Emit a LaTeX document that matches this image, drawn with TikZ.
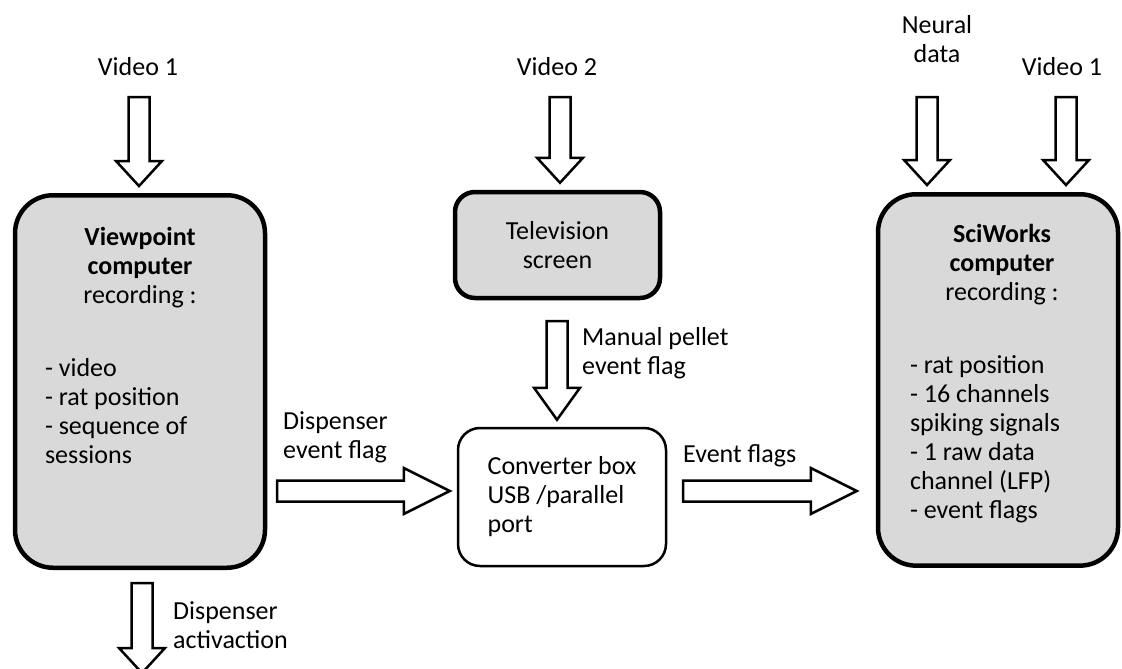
\documentclass[tikz,border=0pt]{standalone}
\usepackage{fontspec}
\setmainfont{Carlito}
\usetikzlibrary{positioning,calc}
\definecolor{BoxGray}{RGB}{217,217,217}
\tikzset{every node/.style={font=\fontsize{26}{29}\selectfont}, graybox/.style={draw=black,fill=BoxGray,line width=4.5pt,rounded corners=38pt}, convbox/.style={draw=black,fill=white,line width=2.5pt,rounded corners=22pt,inner ysep=0pt}, lab/.style={inner sep=0pt,align=left}, fat/.style={draw=black,fill=white,line width=2.5pt,line join=miter}}
\newcommand{\fatarrow}[3][25pt]{%
  \coordinate (fa-neck) at ($(#3)!#1!(#2)$);
  \draw[fat] ($(#2)!10.5pt!90:(#3)$) -- ($(fa-neck)!10.5pt!90:(#3)$) -- ($(fa-neck)!23pt!90:(#3)$) -- (#3) -- ($(fa-neck)!23pt!-90:(#3)$) -- ($(fa-neck)!10.5pt!-90:(#3)$) -- ($(#2)!10.5pt!-90:(#3)$) -- cycle;}

\begin{document}
\begin{tikzpicture}[x=1pt,y=-1pt]
\useasboundingbox (0,0) rectangle (1122,669);
% boxes
\node[graybox,anchor=north,inner xsep=30pt,inner ysep=29.5pt] (vp) at (140,193) {\parbox[t][313.5pt][t]{190pt}{\centering\strut\textbf{Viewpoint}\\ \textbf{computer}\\ recording :\par\vspace{44pt}\raggedright - video\\ - rat position\\ - sequence of\\ sessions}};
\node[graybox,rounded corners=20pt,minimum width=205pt,minimum height=106pt,align=center] (tv) at (557.5,245) {Television\\ screen};
\node[convbox,minimum width=208pt,minimum height=138pt,align=left] (conv) at (562,497) {Converter box\\ USB /parallel\\ port};
\node[graybox,anchor=north,inner xsep=32pt,inner ysep=27.7pt] (sw) at (998,192) {\parbox[t][316pt][t]{176pt}{\centering\strut\hspace*{8pt}\textbf{SciWorks}\\ \hspace*{8pt}\textbf{computer}\\ \hspace*{8pt}recording :\par\vspace{44pt}\raggedright - rat position\\ - 16 channels\\ spiking signals\\ - 1 raw data\\ channel (LFP)\\ - event flags}};
% labels (base = last line)
\node[lab,anchor=base] (v1) at (138,75) {Video 1};
\node[lab,anchor=base] (v2) at (557,75) {Video 2};
\node[lab,align=center,anchor=base] (nd) at (937,63) {Neural\\ data};
\node[lab,anchor=base] (v1r) at (1062,75) {Video 1};
\node[lab,anchor=base west] (mp) at (582,374) {Manual pellet\\ event flag};
\node[lab,anchor=base west] (dfl) at (283,458) {Dispenser\\ event flag};
\node[lab,anchor=base west] (efl) at (683,462) {Event flags};
\node[lab,anchor=base west] (dact) at (173,648) {Dispenser\\ activaction};
% arrow ends
\coordinate (v1-in) at (139,97);
\coordinate (v1-tip) at ($(v1-in |- vp.north)+(0,-7)$);
\coordinate (v2-in) at (560,97);
\coordinate (v2-tip) at ($(v2-in |- tv.north)+(0,-7)$);
\coordinate (nd-in) at (927,97);
\coordinate (nd-tip) at ($(nd-in |- sw.north)+(0,-7)$);
\coordinate (v1r-in) at (1066,97);
\coordinate (v1r-tip) at ($(v1r-in |- sw.north)+(0,-7)$);
\coordinate (mp-in) at (557,321);
\coordinate (mp-tip) at ($(mp-in |- conv.north)+(0,-7)$);
\coordinate (dfl-in) at (277,491);
\coordinate (dfl-tip) at ($(dfl-in -| conv.west)+(-7,0)$);
\coordinate (efl-in) at (683,491);
\coordinate (efl-tip) at ($(efl-in -| sw.west)+(-19,0)$);
\coordinate (dact-in) at (142,583);
\coordinate (dact-tip) at (142,673);
% block arrows
\fatarrow{v1-in}{v1-tip}
\fatarrow{v2-in}{v2-tip}
\fatarrow{nd-in}{nd-tip}
\fatarrow{v1r-in}{v1r-tip}
\fatarrow[32pt]{mp-in}{mp-tip}
\fatarrow[46pt]{dfl-in}{dfl-tip}
\fatarrow[46pt]{efl-in}{efl-tip}
\fatarrow{dact-in}{dact-tip}
\end{tikzpicture}
\end{document}
